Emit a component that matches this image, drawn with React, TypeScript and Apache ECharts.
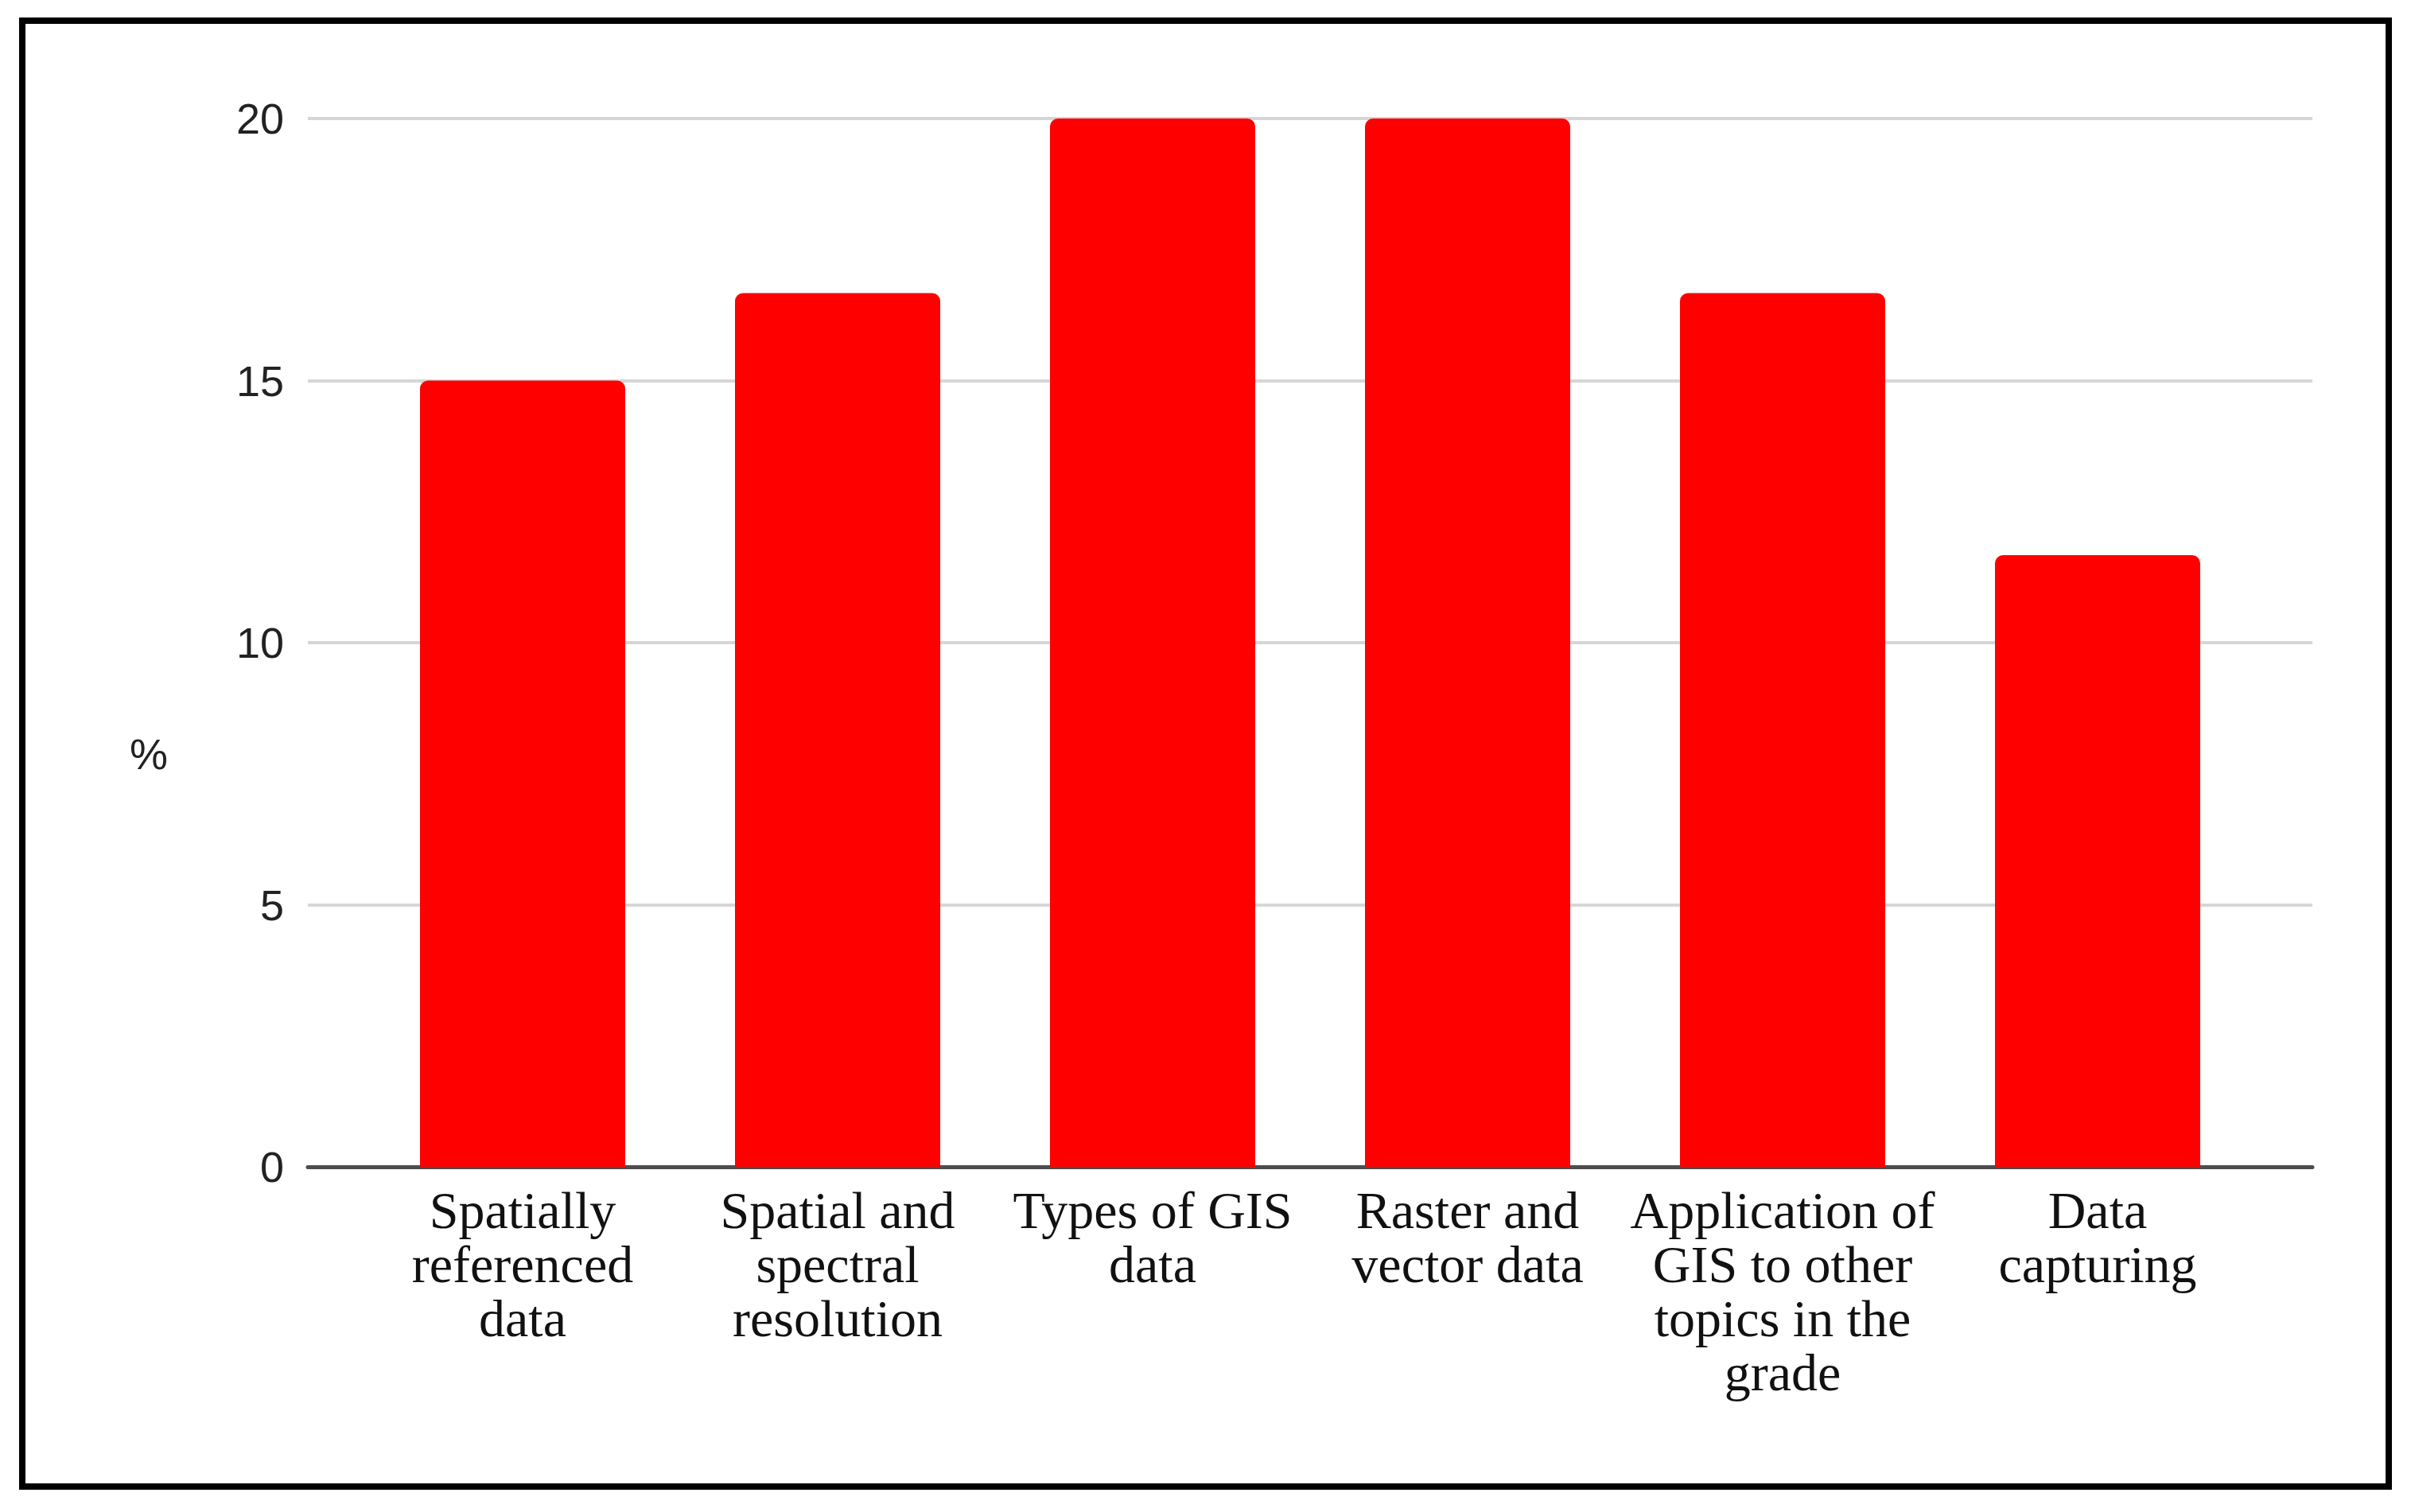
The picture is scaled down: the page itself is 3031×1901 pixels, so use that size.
import React, { useEffect, useRef } from "react";
import * as echarts from "echarts";

const categories = [
  "Spatially\nreferenced\ndata",
  "Spatial and\nspectral\nresolution",
  "Types of GIS\ndata",
  "Raster and\nvector data",
  "Application of\nGIS to other\ntopics in the\ngrade",
  "Data\ncapturing",
];
const values = [15, 16.67, 20, 20, 16.67, 11.67];
const yTicks = { min: 0, max: 20, interval: 5 };
const yName = "%";

export default function App() {
  const ref = useRef<HTMLDivElement>(null);
  useEffect(() => {
    if (!ref.current) return;
    const chart = echarts.init(ref.current, null, { renderer: "svg" });
    const sans = "'Liberation Sans Narrow', 'Liberation Sans', Arial, sans-serif";
    const serif = "'Liberation Serif', 'Times New Roman', serif";
    chart.setOption({
      animation: false,
      backgroundColor: "#ffffff",
      grid: [
        { left: 387, right: 124, top: 149, bottom: 434 },
        { left: 459, right: 196, top: 149, bottom: 434 },
      ],
      xAxis: [
        {
          gridIndex: 0,
          type: "value",
          min: 0,
          max: 1,
          axisLine: { show: true, onZero: false, lineStyle: { color: "#4d4d4d", width: 5 } },
          axisTick: { show: false },
          axisLabel: { show: false },
          splitLine: { show: false },
        },
        {
          gridIndex: 1,
          type: "category",
          data: categories,
          axisLine: { show: false },
          axisTick: { show: false },
          axisLabel: {
            interval: 0,
            margin: 20,
            color: "#111111",
            fontFamily: serif,
            fontSize: 66,
            lineHeight: 68,
          },
        },
      ],
      yAxis: [
        {
          gridIndex: 0,
          type: "value",
          min: yTicks.min,
          max: yTicks.max,
          interval: yTicks.interval,
          axisLine: { show: false },
          axisTick: { show: false },
          axisLabel: { margin: 30, color: "#222222", fontFamily: sans, fontSize: 54 },
          splitLine: { show: true, lineStyle: { color: "#d6d6d6", width: 4 } },
        },
        {
          gridIndex: 1,
          type: "value",
          min: yTicks.min,
          max: yTicks.max,
          interval: yTicks.interval,
          show: false,
          splitLine: { show: false },
        },
      ],
      series: [
        {
          type: "bar",
          xAxisIndex: 1,
          yAxisIndex: 1,
          data: values,
          barWidth: 258,
          itemStyle: { color: "#ff0000", borderRadius: [10, 10, 0, 0] },
          z: 1,
        },
      ],
      graphic: [
        {
          type: "rect",
          shape: { x: 28, y: 26, width: 2975, height: 1843 },
          style: { fill: "none", stroke: "#000000", lineWidth: 8 },
          silent: true,
        },
        {
          type: "text",
          x: 187,
          y: 948,
          style: {
            text: yName,
            fill: "#222222",
            font: "54px " + sans,
            align: "center",
            verticalAlign: "middle",
          },
        },
      ],
    });
    return () => chart.dispose();
  }, []);
  return (
    <div
      ref={ref}
      style={{ position: "absolute", left: 0, top: 0, width: 3031, height: 1901 }}
    />
  );
}
